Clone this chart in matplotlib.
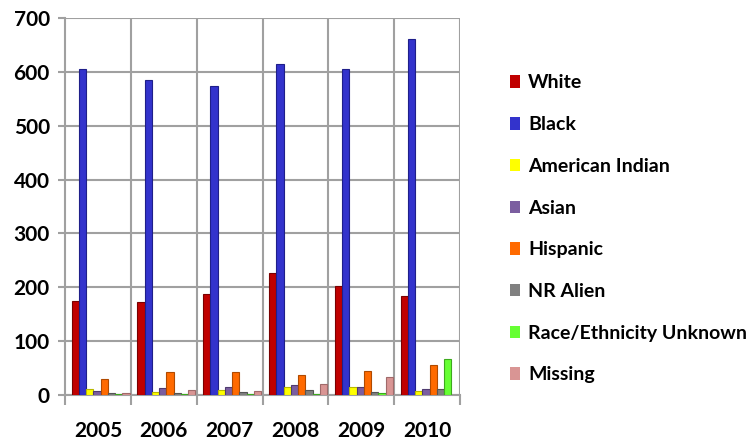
import matplotlib.pyplot as plt
import matplotlib as mpl
import numpy as np
from matplotlib.patches import Patch

# categories and series
years = ['2005', '2006', '2007', '2008', '2009', '2010']
series_names = ['White', 'Black', 'American Indian', 'Asian', 'Hispanic',
                'NR Alien', 'Race/Ethnicity Unknown', 'Missing']

white = [175, 172, 188, 227, 203, 183]
black = [605, 585, 574, 615, 606, 661]
american_indian = [12, 5, 10, 15, 15, 8]
asian = [8, 13, 15, 18, 15, 11]
hispanic = [30, 42, 42, 38, 45, 55]
nr_alien = [4, 3, 5, 10, 5, 12]
unknown = [2, 2, 2, 2, 3, 66]
missing = [3, 10, 8, 20, 33, 0]

colors = ['#C00000', '#3333CC', '#FFFF00', '#7B5EA0', '#FF6A00',
          '#808080', '#66FF33', '#D99594']
edges = ['#7A0000', '#1F1F8A', '#B8B800', '#4F3B70', '#B04A00',
         '#555555', '#3DAA1E', '#A06A6A']

values = [white, black, american_indian, asian, hispanic, nr_alien, unknown, missing]

mpl.rcParams['font.family'] = ['Lato', 'DejaVu Sans']
mpl.rcParams['font.weight'] = 'bold'

fig = plt.figure(figsize=(7.53, 4.41), dpi=100)
ax = fig.add_axes([65 / 753, 1 - 395 / 441, 395 / 753, 377 / 441])

grid_col = '#A0A0A0'
x = np.arange(len(years))
bar_w = 0.11
start = 0.1
for k, (vals, c, ec) in enumerate(zip(values, colors, edges)):
    ax.bar(x + start + k * bar_w, vals, width=bar_w, align='edge',
           color=c, edgecolor=ec, linewidth=0.8, zorder=3)

ax.set_xlim(0, len(years))
ax.set_ylim(0, 700)
ax.set_yticks(np.arange(0, 701, 100))
ax.set_xticks(x + 0.5)
ax.set_xticklabels(years)
ax.set_xticks(np.arange(0, len(years) + 1), minor=True)

ax.grid(axis='y', color=grid_col, linewidth=1.5, zorder=0)
for b in range(1, len(years) + 1):
    ax.axvline(b, color=grid_col, linewidth=1.5, zorder=0)

for s in ['top', 'right']:
    ax.spines[s].set_visible(False)
for s in ['left', 'bottom']:
    ax.spines[s].set_color(grid_col)
    ax.spines[s].set_linewidth(1.5)

ax.tick_params(axis='x', which='major', length=0, pad=19, labelsize=15)
ax.tick_params(axis='x', which='minor', length=7, width=1.5, color=grid_col, direction='out')
ax.tick_params(axis='y', length=5, width=1.5, color=grid_col, labelsize=15, pad=6)
for lab in ax.get_xticklabels() + ax.get_yticklabels():
    lab.set_fontweight('bold')

handles = [Patch(facecolor=c, edgecolor='none') for c in colors]
leg = fig.legend(handles, series_names, loc='upper left',
                 bbox_to_anchor=(492 / 753, 1 - 57 / 441), frameon=False,
                 prop={'size': 14, 'weight': 'bold'}, handlelength=0.55,
                 handleheight=0.6, handletextpad=0.4, labelspacing=1.27)

fig.savefig('out.png', dpi=100)
